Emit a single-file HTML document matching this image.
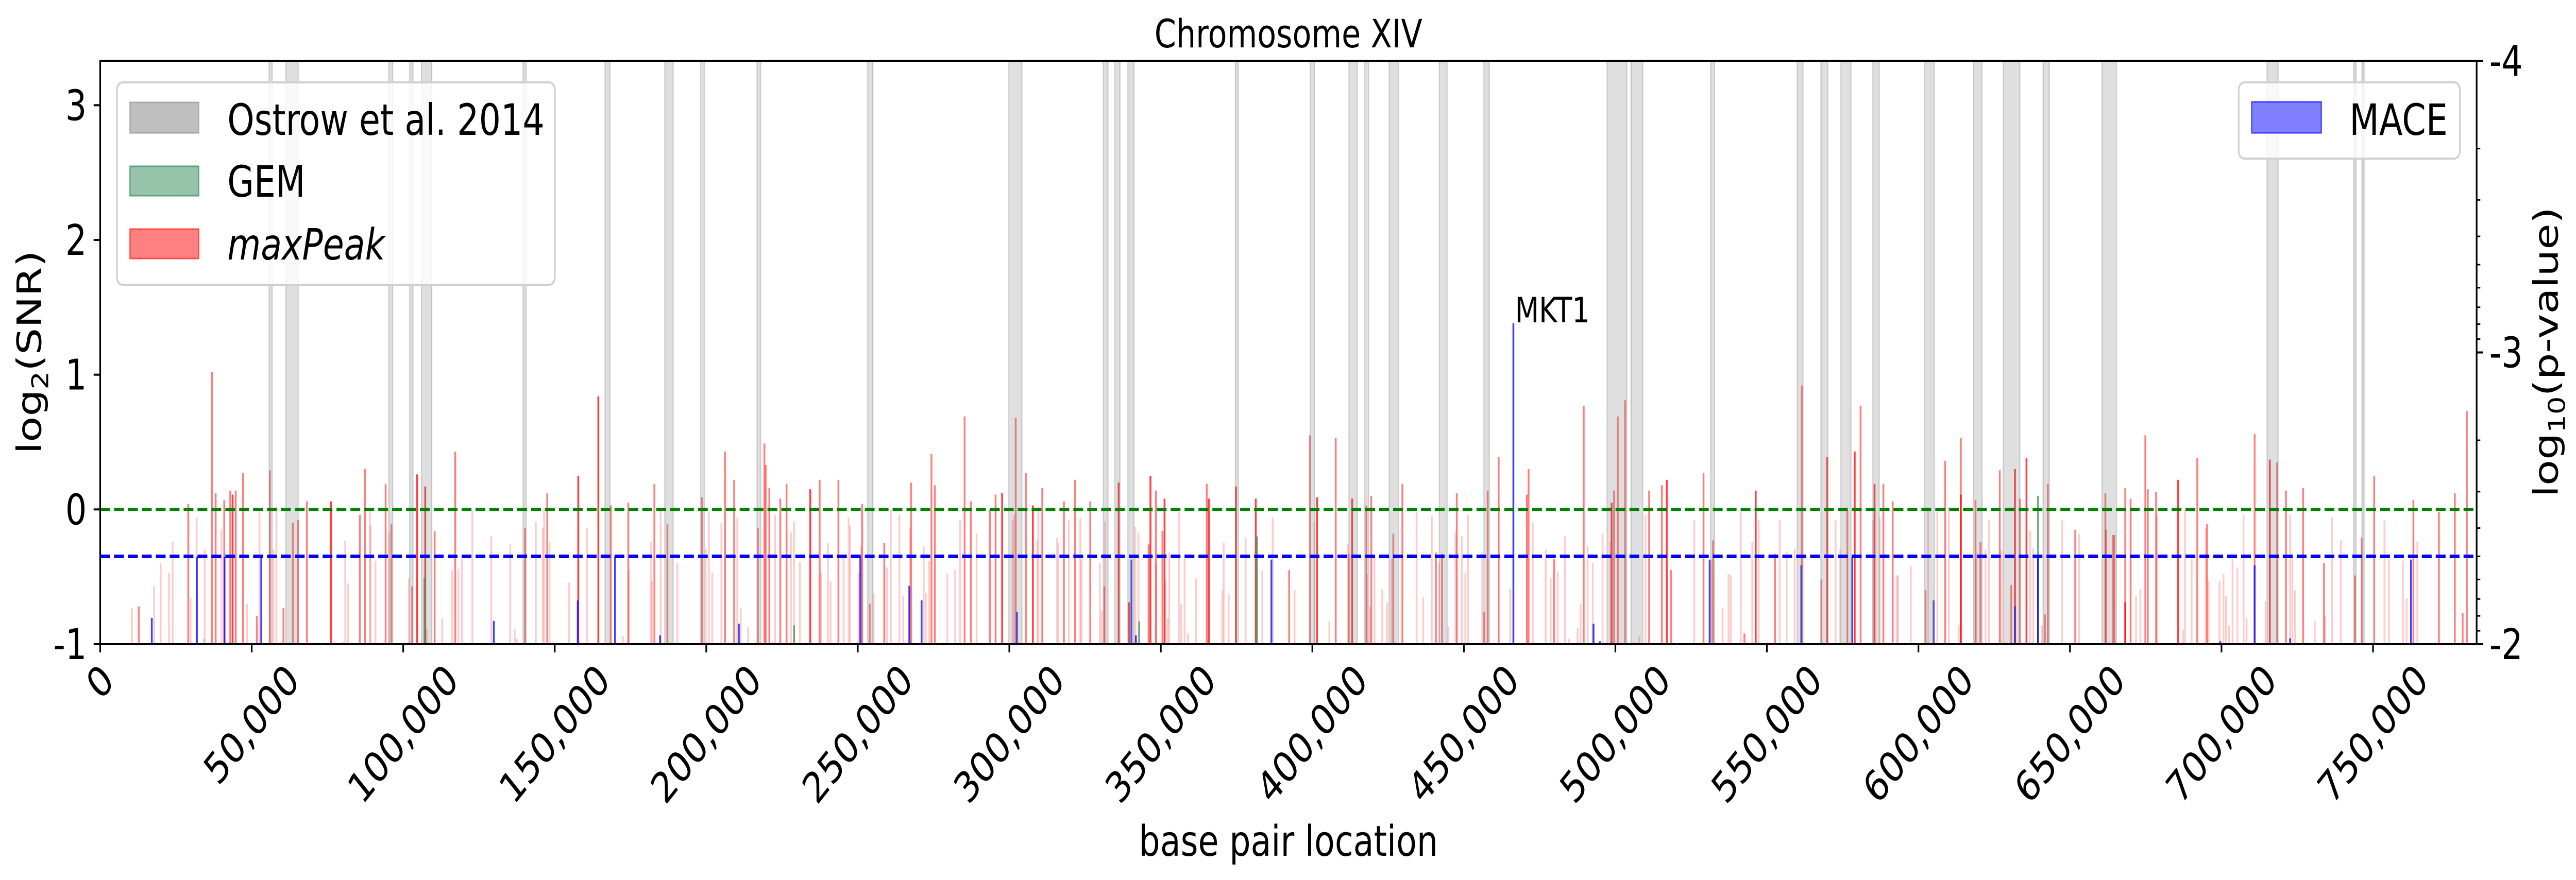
<!DOCTYPE html>
<html><head><meta charset="utf-8"><style>
html,body{margin:0;padding:0;background:#fff;width:100%;height:100%;overflow:hidden;}
svg{display:block;position:absolute;left:0;top:0;width:100vw;height:100vh;font-family:"DejaVu Sans","Liberation Sans",sans-serif;}
</style></head><body>
<svg id="chart" viewBox="0 0 6300 1709" preserveAspectRatio="none" xmlns="http://www.w3.org/2000/svg" overflow="hidden">
<text x="3151" y="92" font-size="76" text-anchor="middle">Chromosome XIV</text>
<g id="plot"></g>
<g id="axes"></g>
<text x="3151" y="1662" font-size="82" text-anchor="middle">base pair location</text>
<text transform="translate(100,684) rotate(-90)" font-size="82" text-anchor="middle">log<tspan font-size="56" dy="18">2</tspan><tspan dy="-18">(SNR)</tspan></text>
<text transform="translate(6255,684) rotate(-90)" font-size="82" text-anchor="middle">log<tspan font-size="56" dy="18">10</tspan><tspan dy="-18">(p-value)</tspan></text>
<g>
<rect x="286" y="160" width="1071" height="393" rx="14" fill="#fff" fill-opacity="0.8" stroke="#d0d0d0" stroke-width="4"/>
<g><rect x="318" y="199" width="168" height="59" fill="#bfbfbf" stroke="#a9a9a9" stroke-width="3"/><text x="556" y="262" font-size="84">Ostrow et al. 2014</text></g>
<g><rect x="318" y="323" width="168" height="57" fill="#96c3aa" stroke="#5fa07c" stroke-width="3"/><text x="556" y="382" font-size="84">GEM</text></g>
<g><rect x="318" y="445" width="168" height="57" fill="#ff8080" stroke="#ff4a4a" stroke-width="3"/><text x="556" y="504" font-size="84" font-style="italic">maxPeak</text></g>
</g>
<g>
<rect x="5475" y="160" width="541" height="148" rx="14" fill="#fff" fill-opacity="0.8" stroke="#d0d0d0" stroke-width="4"/>
<g><rect x="5507" y="198" width="170" height="60" fill="#8080ff" stroke="#4040ff" stroke-width="3"/><text x="5746" y="262" font-size="84">MACE</text></g>
</g>
</svg>
<script>
// ---- data ----
const xTicks = [0,50000,100000,150000,200000,250000,300000,350000,400000,450000,500000,550000,600000,650000,700000,750000];
const yTicks = [-1,0,1,2,3];
const y2Ticks = [-4,-3,-2];
const xDomain = [0, 784200];
const yDomain = [-1, 3.33];
const y2Domain = [-2, -4.0];
const gemThreshold = 0;
const maceThreshold = -2.301;
const ostrowRegions = [[55741,56773],[61246,65375],[95224,96514],[102106,103224],[106063,109417],[139525,140557],[166621,168256],[186320,189073],[198105,199395],[216771,217975],[253244,254965],[299781,304167],[331006,332555],[334791,336512],[339092,341157],[374618,375564],[399306,400768],[412079,414828],[417254,418548],[425340,428413],[441916,444504],[456552,458412],[497225,503774],[505149,509030],[531427,532721],[559971,561912],[567814,570079],[574364,577760],[584956,587058],[602018,605252],[618109,621020],[627974,633472],[641154,643176],[660559,665330],[715058,718697],[743603,744412],[746352,747080]];
const peaksStrong = [[43698,0.11],[76128,0.06],[104600,0.26],[107267,0.17],[157761,0.25],[164385,0.84],[234319,0.15],[297630,0.12],[307781,0.03],[336081,0.20],[339522,-0.69],[346576,0.25],[351221,0.08],[365844,0.08],[374790,0.17],[381328,0.08],[401543,0.09],[413130,0.08],[498761,0.05],[516955,0.22],[546305,0.14],[569917,0.39],[578973,0.43],[585522,0.19],[613985,0.11],[631855,0.30],[635655,0.38],[668241,-0.69],[685706,0.22],[715948,0.37]];
const peaksMid = [[12731,-0.72],[29075,0.04],[36903,1.02],[38107,0.12],[40946,0.07],[42924,0.14],[44730,0.14],[47139,0.27],[51698,-0.79],[56000,0.29],[60472,-0.73],[63569,-0.10],[65289,-0.08],[68214,0.06],[85676,-0.04],[87396,0.30],[94192,0.19],[96084,-0.11],[102966,-0.57],[110364,-0.16],[117159,0.43],[140213,-0.14],[147525,0.12],[168514,0.03],[174277,0.05],[182879,0.19],[187180,-0.11],[198621,0.09],[206191,0.43],[209201,0.22],[217029,-0.14],[219180,0.49],[219610,0.33],[220814,0.16],[224427,0.08],[226491,0.19],[237416,0.22],[243609,0.22],[251437,0.04],[253932,-0.70],[258749,-0.25],[267609,0.20],[274319,0.41],[275437,0.18],[285244,0.69],[287308,0.06],[293587,0.00],[295480,0.11],[302104,0.68],[305458,0.27],[310878,0.16],[318017,0.06],[321716,0.22],[326705,0.06],[331350,-0.57],[345974,-0.26],[348382,0.14],[350533,-0.16],[365156,0.19],[392338,-0.45],[399220,0.55],[407713,0.53],[411998,-0.33],[417820,0.03],[419437,0.10],[426715,-0.18],[429707,0.19],[440784,-0.32],[442806,-0.33],[447658,0.12],[456714,-0.76],[457846,0.14],[461485,0.39],[470783,0.11],[471350,0.30],[479759,-0.37],[489543,0.77],[499570,0.14],[500783,0.69],[503209,0.81],[511133,0.14],[515338,0.18],[518410,-0.45],[529084,0.27],[532236,-0.23],[542586,-0.92],[552693,-0.33],[561507,0.92],[567976,-0.52],[576547,-0.01],[580913,0.77],[588433,0.19],[591506,0.06],[602341,-0.60],[608810,0.36],[613985,0.53],[618836,0.07],[620454,-0.24],[626842,0.29],[630642,-0.56],[633472,0.08],[641720,-0.78],[642690,0.19],[651746,-0.15],[661691,0.12],[661853,-0.15],[664279,-0.19],[664683,-0.19],[668241,0.16],[670020,0.08],[674871,0.55],[675680,0.15],[678429,0.13],[692013,0.38],[695248,-0.11],[710935,0.56],[718374,0.35],[721285,0.14],[726945,0.16],[733818,-0.40],[744088,-0.49],[746271,-0.21],[750395,0.25],[763332,0.07],[771742,-0.02],[776998,0.12],[779585,-0.77],[780960,0.73]];
const peaksLight = [[10494,-0.73],[17806,-0.57],[19957,-0.40],[22709,-0.47],[23914,-0.24],[29849,-0.66],[31827,-0.06],[34236,-0.96],[34494,-0.30],[40000,-0.15],[48429,-0.70],[52558,-0.02],[57203,-0.30],[58150,0.02],[59526,-0.98],[77332,-0.98],[80085,-0.98],[80859,-0.23],[81805,-0.55],[89031,0.01],[89203,-0.12],[90837,-0.38],[95310,-0.17],[101848,-0.51],[107783,-0.89],[112858,-0.81],[116127,-0.45],[118191,-0.44],[119396,-0.37],[122837,-0.01],[129030,-0.20],[135310,-0.26],[136772,-0.89],[137547,-0.96],[143740,-0.09],[146063,-0.14],[146493,0.01],[148299,-0.24],[154751,-0.54],[160686,-0.14],[172471,-0.94],[174363,-0.45],[181675,-0.24],[182105,-0.53],[184944,0.01],[190449,-0.40],[199825,-0.29],[200857,-0.02],[201976,-0.47],[204986,-0.10],[210234,-0.06],[211352,-0.73],[213846,-0.87],[221846,-0.98],[222707,-0.04],[227953,-0.17],[228985,-0.09],[230878,-0.39],[237932,-0.47],[240168,-0.25],[241028,-0.53],[245329,-0.34],[246964,-0.06],[247480,-0.12],[250233,-0.47],[251179,-0.27],[255222,-0.62],[259609,-0.43],[260899,0.00],[263738,-0.04],[265028,-0.64],[267179,-0.14],[271738,-0.27],[272427,-0.62],[273545,-0.38],[279566,-0.48],[282147,-0.45],[283781,-0.08],[289201,-0.18],[301071,-0.08],[301587,-0.04],[309243,-0.23],[309587,0.02],[315781,-0.21],[316211,-0.25],[319652,-0.08],[323436,-0.06],[323781,-0.37],[329888,-0.40],[330490,-0.75],[331608,-0.09],[341587,-0.13],[342619,-0.17],[348468,-0.40],[351479,-0.53],[352253,-0.81],[352769,-0.32],[355952,-0.02],[356726,-0.70],[357844,-0.36],[358963,-0.92],[361629,-0.51],[370317,-0.60],[370747,-0.25],[372381,-0.63],[377973,-0.21],[383478,-0.45],[386919,-0.06],[394145,-0.60],[400682,-0.09],[405610,-0.83],[411756,-0.26],[418063,-0.48],[419033,-0.72],[420489,-0.36],[423076,-0.59],[424693,-0.69],[426149,-0.37],[434396,-0.02],[436580,-0.65],[439410,-0.05],[441836,-0.40],[444908,-0.87],[447253,-0.17],[449356,-0.20],[450488,-0.47],[451377,-0.04],[456067,-0.32],[465285,-0.59],[472724,-0.10],[477010,-0.30],[478627,-0.51],[480972,-0.46],[483317,-0.20],[484611,-0.96],[487522,-0.88],[488492,-0.70],[490837,-0.27],[492535,-0.40],[495769,-0.18],[498357,-0.24],[507898,-0.94],[509920,-0.04],[526011,-0.08],[531670,-0.38],[535389,-0.73],[537330,-0.48],[538058,-0.49],[541373,-0.01],[545173,-0.24],[547275,-0.08],[554229,-0.08],[556494,-0.32],[559162,-0.29],[572666,-0.08],[574202,-0.30],[585037,-0.08],[587220,-0.06],[592880,-0.49],[593285,-0.49],[597489,-0.42],[603230,0.02],[606223,-0.02],[610023,0.02],[613257,-0.86],[619079,-0.32],[622152,-0.30],[623284,-0.08],[627408,-0.30],[636868,-0.16],[637919,-0.29],[640749,-0.86],[647380,-0.08],[653040,-0.18],[671798,-0.64],[673254,-0.59],[678752,-0.04],[687324,-0.89],[687970,0.00],[690154,-0.37],[694763,-0.14],[695733,-0.53],[699372,-0.53],[700666,-0.48],[701474,-0.64],[702525,-0.86],[703657,-0.37],[705275,-0.43],[707296,-0.04],[708266,-0.81],[714573,-0.68],[722660,-0.04],[723387,-0.35],[724277,-0.60],[730746,-0.83],[734223,-0.79],[736487,-0.06],[739398,-0.23],[753791,-0.08],[755246,-0.37],[759855,-0.38],[761068,-0.66],[764626,-0.24]];
const gemPeaks = [[107009,-0.51],[228985,-0.86],[342877,-0.83],[381758,-0.20],[639455,0.10]];
const macePeaks = [[17032,-2.09],[31913,-2.30],[41032,-2.30],[53160,-2.30],[129890,-2.08],[157589,-2.15],[169890,-2.30],[184772,-2.03],[210750,-2.07],[250835,-2.30],[267006,-2.20],[271050,-2.15],[302534,-2.11],[340296,-2.29],[341759,-2.03],[386489,-2.29],[466336,-3.10],[492777,-2.07],[494880,-2.01],[531105,-2.29],[561345,-2.27],[578164,-2.30],[605010,-2.15],[631855,-2.13],[639455,-2.30],[699615,-2.01],[710935,-2.27],[722660,-2.02],[762524,-2.29]];
const geneLabels = [["MKT1",466336,-3.10]];

// ---- axes ----
const L=245, R=6057, T=118, B=1251;
const xs = v => L + (v - xDomain[0]) / (xDomain[1] - xDomain[0]) * (R - L);
const ys = v => B - (v - yDomain[0]) / (yDomain[1] - yDomain[0]) * (B - T);
const y2s = v => B - (v - y2Domain[0]) / (y2Domain[1] - y2Domain[0]) * (B - T);
const NS = "http://www.w3.org/2000/svg";
const plot = document.getElementById('plot');
const axes = document.getElementById('axes');
function mk(tag, attrs, parent){ const e=document.createElementNS(NS,tag); for(const k in attrs) e.setAttribute(k,attrs[k]); parent.appendChild(e); return e; }
const barW = 600;
function drawBars(list, fill, scale, name){
  for(const [bp,v] of list){
    const x = xs(bp - barW/2), w = xs(bp + barW/2) - x, top = scale(v);
    const r = mk('rect',{x:x, y:top, width:w, height:Math.max(0,B-top), fill:fill}, plot);
    
    
  }
}
drawBars(peaksLight,'rgba(255,0,0,0.2)',ys,'maxpeak-bar');
drawBars(peaksMid,'rgba(255,0,0,0.5)',ys,'maxpeak-bar');
drawBars(peaksStrong,'rgba(255,0,0,0.75)',ys,'maxpeak-bar');
drawBars(gemPeaks,'rgba(46,139,87,0.7)',ys,'gem-bar');
drawBars(macePeaks,'rgba(0,0,255,0.75)',y2s,'mace-bar');
for(const [a,b] of ostrowRegions){
  const r = mk('rect',{x:xs(a), y:T, width:xs(b)-xs(a), height:B-T, fill:'rgba(128,128,128,0.25)', stroke:'rgba(128,128,128,0.3)', 'stroke-width':3}, plot);
  
  
}
const g1 = mk('line',{x1:L,x2:R,y1:ys(gemThreshold),y2:ys(gemThreshold),stroke:'#008000','stroke-width':6,'stroke-dasharray':'24 10'},plot);


const b1 = mk('line',{x1:L,x2:R,y1:y2s(maceThreshold),y2:y2s(maceThreshold),stroke:'#0000ff','stroke-width':7,'stroke-dasharray':'24 10'},plot);


for(const [name,bp,v] of geneLabels){
  const t = mk('text',{x:xs(bp)+4, y:y2s(v)-2, 'font-size':68}, plot);
  t.textContent = name;
  
  
}
const fr = mk('rect',{x:L,y:T,width:R-L,height:B-T,fill:'none',stroke:'#000','stroke-width':4},axes);


for(const v of xTicks){
  const x = xs(v);
  mk('line',{x1:x,x2:x,y1:B,y2:B+16,stroke:'#000','stroke-width':4},axes);
  const s = v.toLocaleString('en-US');
  const nc = s.split(',').length-1;
  const w = (s.length-nc)*52 + nc*26;
  const cy = 1285 + (w+60)*0.707/2;
  const t = mk('text',{x:x, y:cy, 'font-size':82, 'text-anchor':'middle', 'dominant-baseline':'central', transform:`rotate(-45 ${x} ${cy})`}, axes);
  t.textContent = s;
  
  
}
for(const v of yTicks){
  const y = ys(v);
  mk('line',{x1:L-16,x2:L,y1:y,y2:y,stroke:'#000','stroke-width':4},axes);
  const t = mk('text',{x:212, y:y+29, 'font-size':82, 'text-anchor':'end'}, axes);
  t.textContent = String(v);
  
  
}
for(const v of y2Ticks){
  const y = y2s(v);
  mk('line',{x1:R,x2:R+16,y1:y,y2:y,stroke:'#000','stroke-width':4},axes);
  const t = mk('text',{x:6088, y:y+29, 'font-size':82}, axes);
  t.textContent = String(v);
  
  
}
for(const e of [-4,-3]) for(let k=2;k<=9;k++){
  const y = y2s(Math.log10(k*Math.pow(10,e)));
  mk('line',{x1:R,x2:R+9,y1:y,y2:y,stroke:'#000','stroke-width':3},axes);
}
</script>
</body></html>
